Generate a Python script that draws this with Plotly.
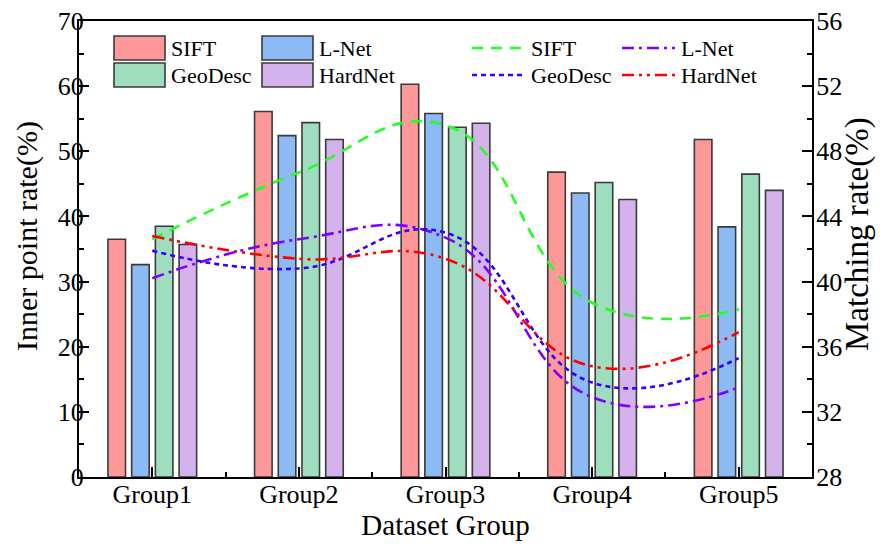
import plotly.graph_objects as go

# ---------------- data ----------------
groups = ["Group1", "Group2", "Group3", "Group4", "Group5"]
group_pos = [1, 2, 3, 4, 5]
methods = ["SIFT", "L-Net", "GeoDesc", "HardNet"]

inner_sift = [36.5, 56.1, 60.3, 46.8, 51.8]
inner_lnet = [32.6, 52.4, 55.8, 43.6, 38.4]
inner_geodesc = [38.5, 54.4, 53.7, 45.2, 46.5]
inner_hardnet = [35.7, 51.8, 54.3, 42.6, 44.0]

match_sift = [42.6, 46.7, 49.6, 38.7, 38.3]
match_lnet = [40.2, 42.6, 42.7, 32.9, 33.5]
match_geodesc = [41.9, 40.8, 43.0, 33.8, 35.3]
match_hardnet = [42.8, 41.4, 41.4, 34.8, 36.9]

left_ticks = [0, 10, 20, 30, 40, 50, 60, 70]
right_ticks = [28, 32, 36, 40, 44, 48, 52, 56]

x_title = "Dataset Group"
left_title = "Inner point rate(%)"
right_title = "Matching rate(%)"

# ---------------- styles ----------------
# the page body adds an 8px offset; the figure is sized so that the plot
# area lands where the reference has it in the 884x545 window
OFF = 8
W, H = 884 - OFF, 545 - OFF
PL, PR, PT, PB = 79, 812, 21, 477          # plot area in window pixels
ML, MR, MT, MB = PL - OFF, 884 - PR, PT - OFF, 545 - PB
PW, PH = PR - PL, PB - PT
FONT = "Liberation Serif, Times New Roman, serif"

bar_colors = ["#FF9999", "#8CBAF5", "#9EDEBF", "#D4B2EC"]
line_colors = ["#22FF22", "#8000FF", "#3300FF", "#FF0000"]
line_dashes = ["11px,8px", "12px,5px,3px,5px", "5px,4px", "12px,5px,3px,5px,3px,5px"]

inner_series = [inner_sift, inner_lnet, inner_geodesc, inner_hardnet]
match_series = [match_sift, match_lnet, match_geodesc, match_hardnet]

fig = go.Figure()

for name, vals, col in zip(methods, inner_series, bar_colors):
    fig.add_trace(go.Bar(
        x=group_pos, y=vals, name=name,
        marker=dict(color=col, line=dict(color="#3a3a3a", width=1.6)),
        yaxis="y", showlegend=False,
    ))

for name, vals, col, dsh in zip(methods, match_series, line_colors, line_dashes):
    fig.add_trace(go.Scatter(
        x=group_pos, y=vals, name=name, mode="lines",
        line=dict(color=col, width=2.6, dash=dsh, shape="spline", smoothing=1.3),
        yaxis="y2", showlegend=False,
    ))


def px2x(px):
    return (px - PL) / PW


def px2y(py):
    return (PB - py) / PH


shapes = []
annotations = []
# bar legend (2 columns x 2 rows)
bar_leg_x = [114, 262, 114, 262]
bar_leg_y = [48, 48, 75, 75]
for name, col, bx, by in zip(methods, bar_colors, bar_leg_x, bar_leg_y):
    shapes.append(dict(type="rect", xref="paper", yref="paper",
                       x0=px2x(bx), x1=px2x(bx + 51), y0=px2y(by - 12), y1=px2y(by + 12),
                       fillcolor=col, line=dict(color="#3a3a3a", width=1.6)))
    annotations.append(dict(xref="paper", yref="paper", x=px2x(bx + 55), y=px2y(by),
                            text=name, showarrow=False, xanchor="left", yanchor="middle",
                            font=dict(family=FONT, size=22, color="black")))
# line legend
line_leg_x = [472, 622, 472, 622]
line_leg_y = [48, 48, 75, 75]
for name, col, dsh, lx, ly in zip(methods, line_colors, line_dashes, line_leg_x, line_leg_y):
    shapes.append(dict(type="line", xref="paper", yref="paper",
                       x0=px2x(lx), x1=px2x(lx + 53), y0=px2y(ly), y1=px2y(ly),
                       line=dict(color=col, width=2.6, dash=dsh)))
    annotations.append(dict(xref="paper", yref="paper", x=px2x(lx + 57), y=px2y(ly),
                            text=name, showarrow=False, xanchor="left", yanchor="middle",
                            font=dict(family=FONT, size=22, color="black")))

# rotated y-axis titles
annotations.append(dict(xref="paper", yref="paper", x=px2x(27), y=px2y(236),
                        text=left_title, textangle=-90, showarrow=False,
                        xanchor="center", yanchor="middle",
                        font=dict(family=FONT, size=30, color="black")))
annotations.append(dict(xref="paper", yref="paper", x=px2x(858), y=px2y(234),
                        text=right_title, textangle=-90, showarrow=False,
                        xanchor="center", yanchor="middle",
                        font=dict(family=FONT, size=33, color="black")))

axis_common = dict(
    showline=True, linecolor="black", linewidth=2,
    ticks="inside", ticklen=10, tickwidth=2, tickcolor="black",
    showgrid=False, zeroline=False, ticklabeloverflow="allow",
    tickfont=dict(family=FONT, size=26, color="black"),
)

fig.update_layout(
    width=W, height=H,
    margin=dict(l=ML, r=MR, t=MT, b=MB, autoexpand=False),
    paper_bgcolor="white", plot_bgcolor="white",
    barmode="group", bargap=0.353, bargroupgap=0.26,
    font=dict(family=FONT, size=22, color="black"),
    xaxis=dict(
        **axis_common,
        range=[0.5, 5.5], tickvals=group_pos, ticktext=groups, mirror=True,
        ticklabelstandoff=-7,
        minor=dict(tickvals=[1.5, 2.5, 3.5, 4.5], ticks="inside", ticklen=5, tickwidth=2, tickcolor="black"),
        title=dict(text=x_title, font=dict(family=FONT, size=29, color="black"), standoff=0),
    ),
    yaxis=dict(
        **axis_common,
        range=[0, 70], tickvals=left_ticks, ticklabelstandoff=-12,
        minor=dict(dtick=5, ticks="inside", ticklen=5, tickwidth=2, tickcolor="black"),
    ),
    yaxis2=dict(
        **axis_common,
        range=[28, 56], tickvals=right_ticks, overlaying="y", side="right",
        ticklabelstandoff=-3,
        minor=dict(dtick=2, tick0=28, ticks="inside", ticklen=5, tickwidth=2, tickcolor="black"),
    ),
    shapes=shapes,
    annotations=annotations,
)

fig.write_html("out.html")
